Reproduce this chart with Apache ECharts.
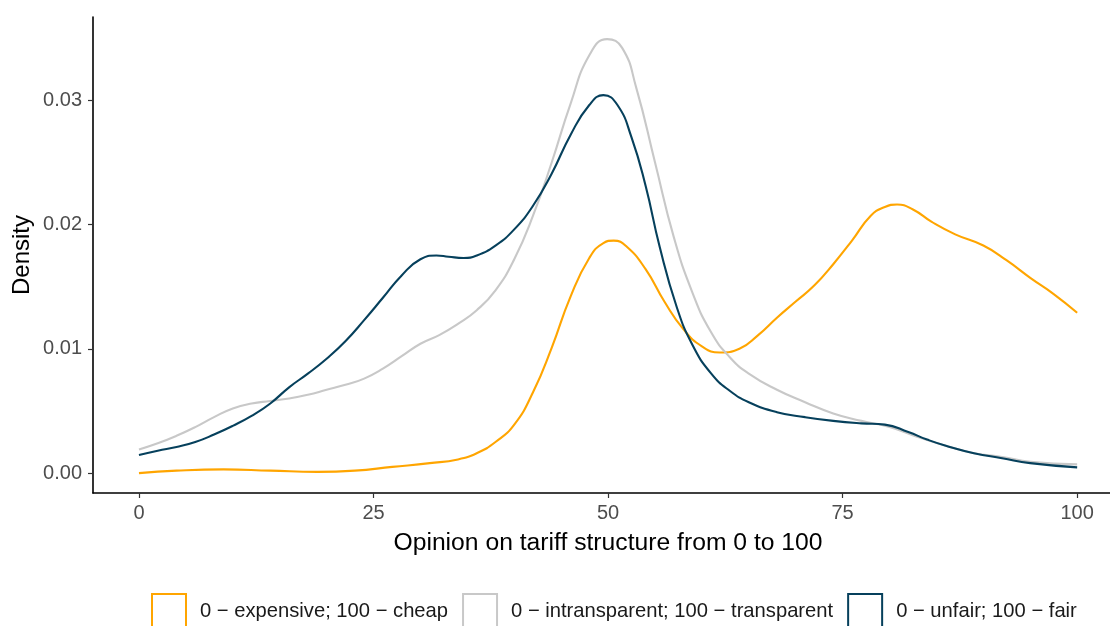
<!DOCTYPE html>
<html>
<head>
<meta charset="utf-8">
<script src="https://cdn.jsdelivr.net/npm/echarts@6/dist/echarts.min.js"></script>
<style>
html,body{margin:0;padding:0;background:#fff;}
#chart{width:1110px;height:626px;}
</style>
</head>
<body>
<div id="chart"></div>
<script>
const seriesNames = ['0 \u2212 expensive; 100 \u2212 cheap', '0 \u2212 intransparent; 100 \u2212 transparent', '0 \u2212 unfair; 100 \u2212 fair'];

const expensiveX = [0,4,9,14,19,23,27,31,34,36,38,40,42,44,46,48,49.5,50.6,52,54,56,58,60,61.9,64,66,68,70,72,74,76,78,79.5,80.8,82.5,84.5,87,90,92.5,95,97.5,100];
const expensiveY = [0.0000,0.0002,0.0003,0.0002,0.0001,0.0002,0.0005,0.0008,0.0011,0.0016,0.0025,0.0039,0.0065,0.0101,0.0142,0.0173,0.0185,0.0187,0.0182,0.0164,0.0138,0.0116,0.0102,0.0097,0.0100,0.0111,0.0125,0.0138,0.0151,0.0168,0.0187,0.0207,0.0214,0.0216,0.0212,0.0202,0.0192,0.0183,0.0171,0.0157,0.0144,0.0129];

const transparentX = [0,2,4,6,8,10,12,14,16,18,20,22,24,26,28,30,32,34,36,38,40,42,44,46,48,49.9,51.5,53,55,57,59,61,63,65,68,71,74,77,80,83,86,89,92,95,100];
const transparentY = [0.0019,0.0024,0.0030,0.0037,0.0045,0.0052,0.0056,0.0058,0.0060,0.0063,0.0067,0.0071,0.0076,0.0084,0.0094,0.0104,0.0111,0.0120,0.0131,0.0147,0.0172,0.0207,0.0250,0.0297,0.0336,0.0349,0.0342,0.0310,0.0250,0.0190,0.0145,0.0113,0.0093,0.0080,0.0067,0.0057,0.0048,0.0042,0.0037,0.0029,0.0022,0.0016,0.0013,0.0009,0.0007];

const fairX = [0,2,4,6,8,10,12,14,16,18,20,22,24,26,28,30,31.7,33,34.6,36,38,40,42,44,46,48,49.5,51,52.5,54,55.5,57.3,59,61,63,65,68,71,74,77,79.5,82,84,86,89,92,95,100];
const fairY = [0.00145,0.0018,0.0021,0.0025,0.0031,0.0038,0.0046,0.0056,0.0069,0.0080,0.0092,0.0106,0.0123,0.0141,0.0159,0.0172,0.0175,0.0174,0.0173,0.0175,0.0183,0.0196,0.0215,0.0241,0.0272,0.0296,0.0304,0.0296,0.0270,0.0231,0.0182,0.0134,0.0103,0.0080,0.0066,0.0057,0.0049,0.0045,0.0042,0.0040,0.0039,0.0033,0.0027,0.0022,0.0016,0.0012,0.0008,0.00046];

const xTicks = [0,25,50,75,100];
const yTicks = [0,0.01,0.02,0.03];
const colors = ['#FFA500','#C8C8C8','#06405C'];

const FONT = 'Liberation Sans, Arial, sans-serif';
const chart = echarts.init(document.getElementById('chart'), null, {renderer:'canvas'});
const allX = [expensiveX, transparentX, fairX];
const allY = [expensiveY, transparentY, fairY];
chart.setOption({
  animation:false,
  backgroundColor:'#fff',
  grid:{left:93,right:0,top:17,bottom:133,containLabel:false},
  title:{
    text:'Opinion on tariff structure from 0 to 100',
    left:608, top:531, textAlign:'center', padding:0,
    textStyle:{fontFamily:FONT,fontSize:24.7,fontWeight:'normal',color:'#000'}
  },
  graphic:[{
    type:'text', x:22, y:255, rotation:Math.PI/2,
    style:{text:'Density',font:'24px '+FONT,fill:'#000',textAlign:'center',textVerticalAlign:'middle'}
  }],
  legend:{
    left:151, top:593, orient:'horizontal', padding:0,
    itemWidth:34, itemHeight:34, itemGap:14,
    icon:'rect',
    textStyle:{fontFamily:FONT,fontSize:20.2,color:'#1a1a1a',padding:[0,0,0,9]},
    data:seriesNames.map((n,i)=>({name:n,itemStyle:{color:'rgba(0,0,0,0)',borderColor:colors[i],borderWidth:2}}))
  },
  xAxis:{
    type:'value', min:-4.9, max:103.5,
    axisLine:{show:true,onZero:false,lineStyle:{color:'#000',width:1.6}},
    axisTick:{show:true,length:5,customValues:xTicks,lineStyle:{color:'#333',width:1.2}},
    axisLabel:{customValues:xTicks,fontFamily:FONT,fontSize:20,color:'#4d4d4d',margin:10},
    splitLine:{show:false}
  },
  yAxis:{
    type:'value', min:-0.0016, max:0.03668,
    axisLine:{show:true,onZero:false,lineStyle:{color:'#000',width:1.6}},
    axisTick:{show:true,length:5,customValues:yTicks,lineStyle:{color:'#333',width:1.2}},
    axisLabel:{customValues:yTicks,fontFamily:FONT,fontSize:20,color:'#4d4d4d',margin:11,formatter:v=>v.toFixed(2)},
    splitLine:{show:false}
  },
  series:seriesNames.map((n,i)=>({
    name:n, type:'line', smooth:0.5, showSymbol:false, symbol:'none',
    lineStyle:{color:colors[i],width:2.1},
    itemStyle:{color:colors[i]},
    data:allX[i].map((x,j)=>[x,allY[i][j]])
  }))
});
</script>
</body>
</html>
